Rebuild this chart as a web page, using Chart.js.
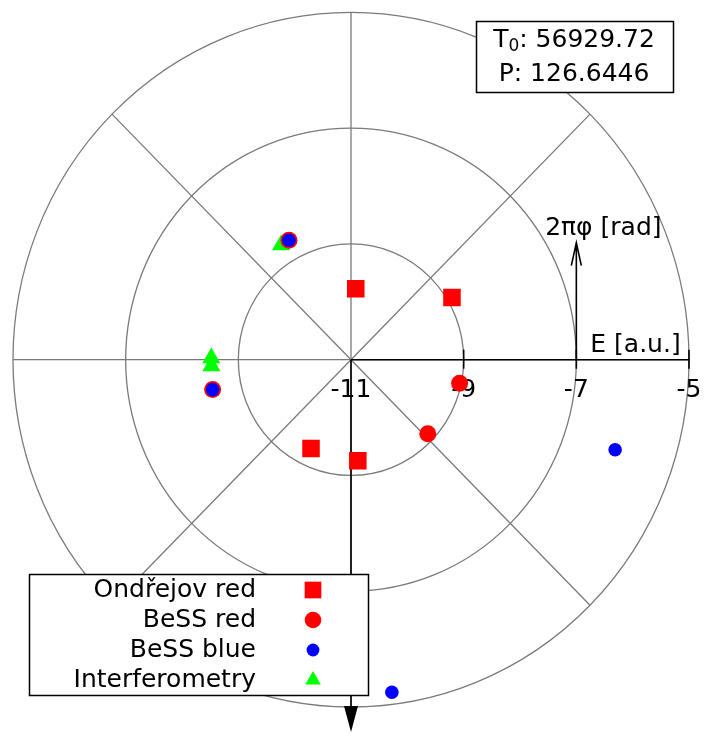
<!DOCTYPE html>
<html>
<head>
<meta charset="utf-8">
<script src="https://cdn.jsdelivr.net/npm/chart.js@4.4.1/dist/chart.umd.min.js"></script>
<style>
  html, body { margin: 0; padding: 0; background: #fff; }
  #wrap { width: 704px; height: 736px; position: relative; }
</style>
</head>
<body>
<div id="wrap"><canvas id="orbitChart"></canvas></div>
<script>
// radial axis: equivalent width E, centre of the diagram is the lowest value
const radialTicks = [-11, -9, -7, -5];
const spokeCount = 8;

// orbital phase (fraction of the period) and E for each data set
const ondrejovPhase = [0.239, 0.086, 0.681, 0.761];
const ondrejovE     = [-9.77, -8.91, -9.31, -9.25];

const bessRedPhase = [0.967, 0.880, 0.328, 0.533];
const bessRedE     = [-9.03, -9.13, -8.66, -8.49];

const bessBluePhase = [0.328, 0.533, 0.949, 0.770];
const bessBlueE     = [-8.66, -8.49, -6.06, -5.21];

const interfPhase = [0.339, 0.498, 0.507];
const interfE     = [-8.66, -8.52, -8.52];

const epochLabel = '56929.72';
const periodLabel = '126.6446';

const FONT = '25px "DejaVu Sans"';
const rMax = radialTicks[radialTicks.length - 1] - radialTicks[0];

function toXY(phases, values) {
    return phases.map((p, i) => {
        const r = values[i] - radialTicks[0];
        const a = 2 * Math.PI * p;
        return { x: r * Math.cos(a), y: r * Math.sin(a) };
    });
}

const polarFrame = {
    id: 'polarFrame',
    beforeDatasetsDraw(chart) {
        const ctx = chart.ctx;
        const xs = chart.scales.x, ys = chart.scales.y;
        const cx = xs.getPixelForValue(0), cy = ys.getPixelForValue(0);
        const kx = xs.getPixelForValue(1) - cx, ky = cy - ys.getPixelForValue(1);
        ctx.save();

        // grey rings and spokes
        ctx.strokeStyle = '#7a7a7a';
        ctx.lineWidth = 1.3;
        radialTicks.slice(1).forEach(t => {
            const r = t - radialTicks[0];
            ctx.beginPath();
            ctx.ellipse(cx, cy, r * kx, r * ky, 0, 0, 2 * Math.PI);
            ctx.stroke();
        });
        for (let k = 0; k < spokeCount; k++) {
            const a = k * 2 * Math.PI / spokeCount;
            ctx.beginPath();
            ctx.moveTo(cx, cy);
            ctx.lineTo(cx + rMax * kx * Math.cos(a), cy - rMax * ky * Math.sin(a));
            ctx.stroke();
        }

        // E axis with ticks
        ctx.strokeStyle = '#000';
        ctx.fillStyle = '#000';
        ctx.lineWidth = 1.6;
        ctx.beginPath();
        ctx.moveTo(cx, cy);
        ctx.lineTo(cx + rMax * kx, cy);
        ctx.stroke();
        ctx.font = FONT;
        ctx.textAlign = 'center';
        ctx.textBaseline = 'middle';
        radialTicks.forEach((t, i) => {
            const px = xs.getPixelForValue(t - radialTicks[0]);
            if (i > 0) {
                ctx.beginPath();
                ctx.moveTo(px, cy - 10);
                ctx.lineTo(px, cy + 9);
                ctx.stroke();
            }
            ctx.fillText(String(t).replace('-', '-'), px, cy + 31);
        });
        ctx.fillText('E [a.u.]', cx + 5.05 * kx, cy - 14);

        // phase direction arrow
        const ax = xs.getPixelForValue(radialTicks[2] - radialTicks[0]);
        const top = cy - 117;
        ctx.beginPath();
        ctx.moveTo(ax, cy);
        ctx.lineTo(ax, top);
        ctx.moveTo(ax - 5, top + 23);
        ctx.lineTo(ax, top);
        ctx.lineTo(ax + 5, top + 23);
        ctx.stroke();
        ctx.fillText('2\u03c0\u03c6 [rad]', ax + 27, top - 14);

        // line of sight arrow
        const tip = cy + rMax * ky + 25;
        ctx.beginPath();
        ctx.moveTo(cx, cy);
        ctx.lineTo(cx, tip - 20);
        ctx.stroke();
        ctx.beginPath();
        ctx.moveTo(cx - 7, tip - 26);
        ctx.lineTo(cx + 7, tip - 26);
        ctx.lineTo(cx, tip);
        ctx.closePath();
        ctx.fill();
        ctx.restore();
    },
    afterDraw(chart) {
        const ctx = chart.ctx;
        ctx.save();
        ctx.font = FONT;
        ctx.lineWidth = 1.5;
        ctx.strokeStyle = '#000';

        // ephemeris box
        ctx.fillStyle = '#fff';
        ctx.fillRect(476, 21, 197, 71);
        ctx.strokeRect(476.5, 21.5, 197, 71);
        ctx.fillStyle = '#000';
        ctx.textBaseline = 'middle';
        ctx.textAlign = 'left';
        const rest = ': ' + epochLabel;
        ctx.font = '17px "DejaVu Sans"';
        const wSub = ctx.measureText('0').width;
        ctx.font = FONT;
        const wT = ctx.measureText('T').width;
        const wRest = ctx.measureText(rest).width;
        let x0 = 574 - (wT + wSub + wRest) / 2;
        ctx.fillText('T', x0, 40);
        ctx.font = '17px "DejaVu Sans"';
        ctx.fillText('0', x0 + wT, 47);
        ctx.font = FONT;
        ctx.fillText(rest, x0 + wT + wSub, 40);
        ctx.textAlign = 'center';
        ctx.fillText('P: ' + periodLabel, 574, 74);

        // legend
        ctx.fillStyle = '#fff';
        ctx.fillRect(29, 574, 339, 121);
        ctx.strokeRect(29.5, 574.5, 339, 121);
        ctx.textAlign = 'right';
        chart.data.datasets.forEach((ds, i) => {
            const y = 590 + i * 30;
            ctx.fillStyle = '#000';
            ctx.fillText(ds.label, 256, y);
            ctx.fillStyle = ds.backgroundColor;
            Chart.helpers.drawPoint(ctx, {
                pointStyle: ds.pointStyle,
                radius: ds.legendRadius,
                rotation: 0,
                borderWidth: 0
            }, 313, y);
        });
        ctx.restore();
    }
};

new Chart(document.getElementById('orbitChart'), {
    type: 'scatter',
    data: {
        datasets: [
            {
                label: 'Ondřejov red',
                data: toXY(ondrejovPhase, ondrejovE),
                pointStyle: 'rect',
                pointRadius: 12.4,
                legendRadius: 11.8,
                backgroundColor: '#ff0000',
                borderWidth: 0,
                order: 2
            },
            {
                label: 'BeSS red',
                data: toXY(bessRedPhase, bessRedE),
                pointStyle: 'circle',
                pointRadius: 8.5,
                legendRadius: 8.3,
                backgroundColor: '#ff0000',
                borderWidth: 0,
                order: 1
            },
            {
                label: 'BeSS blue',
                data: toXY(bessBluePhase, bessBlueE),
                pointStyle: 'circle',
                pointRadius: 6.8,
                legendRadius: 6.4,
                backgroundColor: '#0000ff',
                borderWidth: 0,
                order: 0
            },
            {
                label: 'Interferometry',
                data: toXY(interfPhase, interfE),
                pointStyle: 'triangle',
                pointRadius: 10.5,
                legendRadius: 9,
                backgroundColor: '#00ff00',
                borderWidth: 0,
                order: 3
            }
        ]
    },
    options: {
        responsive: true,
        maintainAspectRatio: false,
        animation: false,
        layout: { padding: { left: 13, right: 15, top: 5, bottom: 29 } },
        scales: {
            x: { type: 'linear', min: -rMax, max: rMax, display: false },
            y: { type: 'linear', min: -rMax, max: rMax, display: false }
        },
        plugins: {
            legend: { display: false },
            tooltip: { enabled: false }
        },
        elements: { point: { hoverRadius: 0 } }
    },
    plugins: [polarFrame]
});
</script>
</body>
</html>
